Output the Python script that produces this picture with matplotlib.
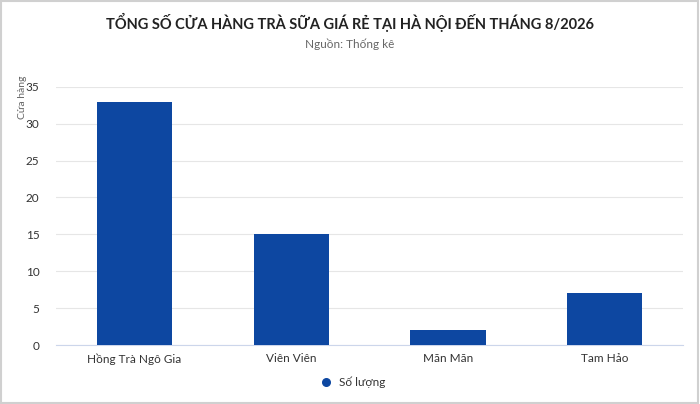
import matplotlib.pyplot as plt
from matplotlib.patches import Rectangle

categories = ["Hồng Trà Ngô Gia", "Viên Viên", "Mãn Mãn", "Tam Hảo"]
values = [33, 15, 2, 7]
yticks = [0, 5, 10, 15, 20, 25, 30, 35]

plt.rcParams['font.family'] = ['Lato', 'DejaVu Sans']

fig = plt.figure(figsize=(7, 4.04), dpi=100)
fig.patch.set_facecolor('white')
# light grey frame round the whole picture
fig.patches.append(Rectangle((0.001, 0.002), 0.996, 0.996, transform=fig.transFigure,
                             fill=False, edgecolor='#d0d0d0', linewidth=1.5))

ax = fig.add_axes([0.08, 0.146, 0.896, 0.639])
x = range(len(categories))
ax.bar(x, values, width=0.48, color='#0d47a1', zorder=3)
ax.set_xlim(-0.5, len(categories) - 0.5)
ax.set_ylim(0, 35)
ax.set_yticks(yticks)
ax.set_xticks(list(x))
ax.set_xticklabels(categories)
ax.tick_params(axis='both', length=0, labelsize=8.5, colors='#333333')
ax.tick_params(axis='y', pad=12)
ax.tick_params(axis='x', pad=6)
ax.grid(axis='y', color='#e6e6e6', linewidth=0.8, zorder=0)
for s in ['top', 'right', 'left']:
    ax.spines[s].set_visible(False)
ax.spines['bottom'].set_color('#ccd6eb')

fig.text(0.5, 0.945, "TỔNG SỐ CỬA HÀNG TRÀ SỮA GIÁ RẺ TẠI HÀ NỘI ĐẾN THÁNG 8/2026",
         ha='center', va='center', fontsize=10.5, fontweight='bold', color='#222222')
fig.text(0.5, 0.89, "Nguồn: Thống kê", ha='center', va='center', fontsize=8.5, color='#666666')
fig.text(0.032, 0.76, "Cửa hàng", rotation=90, ha='center', va='center', fontsize=7.5, color='#666666')

# legend with a round marker
dot = ax.scatter([], [], s=30, color='#0d47a1')
fig.legend(handles=[dot], labels=['Số lượng'], loc='center',
           bbox_to_anchor=(0.5, 0.055), frameon=False, fontsize=8.5,
           handletextpad=0.1, labelcolor='#333333', scatterpoints=1)

fig.savefig('out.png', dpi=100)
